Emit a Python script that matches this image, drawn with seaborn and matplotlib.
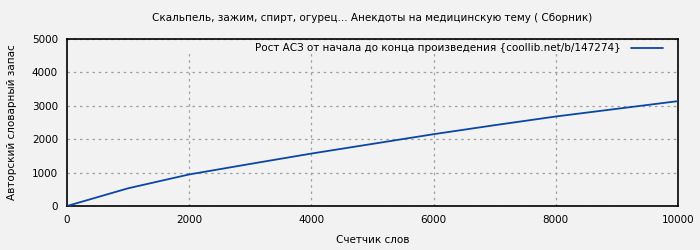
import matplotlib
matplotlib.use("Agg")
import matplotlib.pyplot as plt
import seaborn as sns
import pandas as pd

words = [0, 1000, 2000, 3000, 4000, 5000, 6000, 7000, 8000, 9000, 10000]
vocab = [0, 530, 945, 1260, 1570, 1860, 2150, 2420, 2680, 2910, 3140]
x_ticks = [0, 2000, 4000, 6000, 8000, 10000]
y_ticks = [0, 1000, 2000, 3000, 4000, 5000]
title = "Скальпель, зажим, спирт, огурец... Анекдоты на медицинскую тему ( Сборник)"
series_label = "Рост АСЗ от начала до конца произведения {coollib.net/b/147274}"
xlabel = "Счетчик слов"
ylabel = "Авторский словарный запас"

df = pd.DataFrame({"words": words, "vocab": vocab})

sns.set_style("white")
plt.rcParams["font.family"] = ["DejaVu Sans"]
plt.rcParams["text.color"] = "black"
plt.rcParams["axes.labelcolor"] = "black"
bg = "#f2f2f2"
fs = 7.5
grid_kw = dict(linestyle=(0, (2, 3)), color="#a0a0a0", linewidth=0.9)
fig = plt.figure(figsize=(7, 2.5), dpi=100, facecolor=bg)
ax = fig.add_axes([67/700, 44/250, (678-67)/700, (206-39)/250])
ax.set_facecolor(bg)
sns.lineplot(data=df, x="words", y="vocab", ax=ax, color="#0a46a8", linewidth=1.3, label=series_label, zorder=3)
ax.set_xlim(0, 10000)
ax.set_ylim(0, 5000)
ax.set_xticks(x_ticks)
ax.set_yticks(y_ticks)
ax.tick_params(labelsize=fs, length=3, width=1, colors="black", direction="out")
ax.grid(True, axis="y", **grid_kw)
for xt in x_ticks[1:-1]:
    ax.axvline(xt, ymin=0, ymax=(206-53)/167, zorder=1, **grid_kw)
for s in ax.spines.values():
    s.set_color("black")
    s.set_linewidth(1.2)
ax.set_xlabel(xlabel, fontsize=fs, labelpad=7)
ax.set_ylabel(ylabel, fontsize=fs, labelpad=11)
fig.suptitle(title, fontsize=fs, x=372/700, y=1-18/250, va="center")
leg = ax.legend(loc="upper right", frameon=False, fontsize=fs, markerfirst=False,
                handlelength=3.0, borderaxespad=0.3, handletextpad=1.05,
                bbox_to_anchor=(1 - 8/611, 1 + 3/167))
fig.savefig("out.png", dpi=100, facecolor=bg)
